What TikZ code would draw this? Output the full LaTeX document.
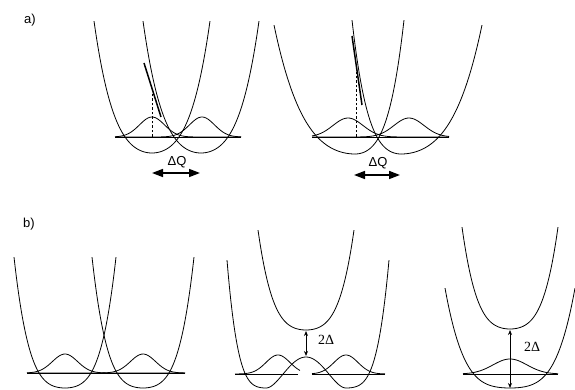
\documentclass[tikz,border=0pt]{standalone}
\usepackage{fontspec}
\setmainfont{Liberation Serif}
\setsansfont{Liberation Sans}
\usetikzlibrary{arrows.meta, calc}

\begin{document}
\begin{tikzpicture}[x=1pt, y=-1pt, >=Stealth,
  pes/.style={line width=0.8pt},
  baseln/.style={line width=0.8pt},
  wavefn/.style={line width=0.8pt, smooth, samples=70},
  tangentln/.style={line width=1.5pt},
  dqarrow/.style={line width=1.6pt, {Triangle[length=11pt, width=8pt]}-{Triangle[length=11pt, width=8pt]}},
  gaparrow/.style={line width=0.8pt, {Stealth[length=5pt, width=4pt]}-{Stealth[length=5pt, width=4pt]}},
  sflab/.style={font=\sffamily\fontsize{13}{15}\selectfont},
  rmlab/.style={font=\rmfamily\fontsize{14}{16}\selectfont}]
  \useasboundingbox (0,0) rectangle (575,390);

  \node[sflab] (tagA) at (30,20) {a)};
  \node[sflab] (tagB) at (29,224) {b)};

  \foreach \xv/\yv/\s/\w/\h/\c in {
    152/153/-1/58/132/.44, 152/153/1/58/132/.44,
    201/153/-1/58/132/.44, 201/153/1/58/132/.44,
    355/154/-1/81/129/.5,  355/154/1/49/134/.38,
    401/154/-1/49/134/.38, 401/154/1/81/129/.5,
    65/388/-1/51/131/.25,  65/388/1/51/131/.25,
    143/388/-1/51/131/.25, 143/388/1/51/131/.25,
    306/330/-1/48/100/.31, 306/330/1/48/100/.31,
    266/388/-1/39/128/.15, 346/388/1/43/128/.15,
    510/329/-1/48/102/.31, 510/329/1/48/102/.31,
    510/388/-1/65/100/.2,  510/388/1/65/100/.2} {
    \draw[pes] plot[domain=0:1, samples=50, smooth]
      ({\xv+(\s)*\w*\x}, {\yv-\h*(\c*\x*\x+(1-\c)*\x*\x*\x*\x)});
  }
  \draw[pes] plot[domain=-1:1, samples=60, smooth]
    ({306+40*\x}, {357+31*(2*\x*\x-\x*\x*\x*\x)});

  \foreach \xa/\xb/\yb in {115/241/137, 312/449/137, 27/185/373,
    235/298/374, 312/385/374, 463/558/374} {
    \draw[baseln] (\xa,\yb) -- (\xb,\yb);
  }

  \foreach \xc/\yb/\amp/\sig/\xa/\xb in {
    152/137/20/12.5/115/241, 202/137/20/12.5/115/241,
    348/137/19/15/312/449,   409/137/19/15/312/449,
    65/373/19/12.5/27/185,   143/373/19/12.5/27/185,
    278/374/19/12/235/300,   346/374/19/12/312/385,
    510/374/15/17/463/558} {
    \draw[wavefn] plot[domain=\xa:\xb]
      (\x, {\yb-\amp*exp(-0.5*((\x-\xc)/\sig)^2)});
  }

  \draw[line width=0.8pt, dash pattern=on 2.5pt off 2pt] (152,137) -- (152,92);
  \draw[tangentln] (144,63) -- (161,117);
  \draw[line width=0.8pt, dash pattern=on 2.5pt off 2pt] (356,137) -- (356,72);
  \draw[tangentln] (352,36) -- (362,105);

  \coordinate (dqA1) at (152,173);
  \coordinate (dqA2) at (200,173);
  \coordinate (dqB1) at (354,175);
  \coordinate (dqB2) at (400,175);
  \draw[dqarrow] (dqA1) -- (dqA2);
  \draw[dqarrow] (dqB1) -- (dqB2);
  \node[sflab] (dqlabA) at (177,162) {ΔQ};
  \node[sflab] (dqlabB) at (378,163) {ΔQ};

  \coordinate (gapA1) at (306,331);
  \coordinate (gapA2) at (306,356);
  \coordinate (gapB1) at (510,330);
  \coordinate (gapB2) at (510,388);
  \draw[gaparrow] (gapA1) -- (gapA2);
  \draw[gaparrow] (gapB1) -- (gapB2);
  \node[rmlab] (gaplabA) at (326,340) {2Δ};
  \node[rmlab] (gaplabB) at (532,347) {2Δ};
\end{tikzpicture}
\end{document}
